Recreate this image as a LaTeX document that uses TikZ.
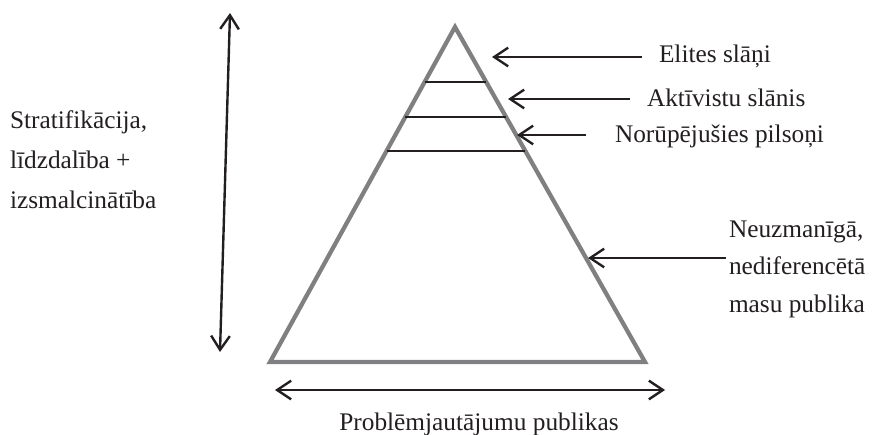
\documentclass[tikz,border=0pt]{standalone}
\usepackage{fontspec}
\setmainfont{Liberation Serif}
\usetikzlibrary{arrows.meta,calc}
\definecolor{trigray}{RGB}{128,128,130}
\definecolor{ink}{RGB}{35,31,32}
\begin{document}
\begin{tikzpicture}[x=0.75pt,y=-0.75pt,
  lbl/.style={font=\fontsize{19}{28}\selectfont, inner sep=0pt, outer sep=0pt, text=ink},
  tip/.tip={Straight Barb[length=10.5pt,width=14pt]},
  arr/.style={-tip, line width=1.8pt, draw=ink},
  dbl/.style={tip-tip, line width=1.8pt, draw=ink},
  strat/.style={line width=1.8pt, draw=ink},
  tri/.style={line width=3.2pt, draw=trigray, line join=miter}]
\useasboundingbox (0,0) rectangle (874,435);
% triangle
\coordinate (apex) at (455,27);
\coordinate (bl) at (270,362);
\coordinate (br) at (645,362);
\draw[tri] (apex) -- (bl) -- (br) -- cycle;
% strata lines
\coordinate (l1a) at ($(apex)!0.164!(bl)$);
\coordinate (l1b) at ($(apex)!0.164!(br)$);
\coordinate (l2a) at ($(apex)!0.269!(bl)$);
\coordinate (l2b) at ($(apex)!0.269!(br)$);
\coordinate (l3a) at ($(apex)!0.370!(bl)$);
\coordinate (l3b) at ($(apex)!0.370!(br)$);
\draw[strat] (l1a) -- (l1b);
\draw[strat] (l2a) -- (l2b);
\draw[strat] (l3a) -- (l3b);
% labels
\node[lbl, anchor=base west] (elites) at (659,63) {Elites slāņi};
\node[lbl, anchor=base west] (akt) at (647,106) {Aktīvistu slānis};
\node[lbl, anchor=base west] (nor) at (615,142) {Norūpējušies pilsoņi};
\node[lbl, anchor=base west, align=left, font=\fontsize{19}{28}\selectfont] (neu) at (729,312) {Neuzmanīgā,\\nediferencētā\\masu publika};
\node[lbl, anchor=base west, align=left, font=\fontsize{19}{30}\selectfont] (strat) at (10,208) {Stratifikācija,\\līdzdalība +\\izsmalcinātība};
\node[lbl, anchor=base] (prob) at (479,430) {Problēmjautājumu publikas};
% arrow tips
\coordinate (t1) at (492,57);
\coordinate (t2) at (508,99);
\coordinate (t3) at (517,135);
\coordinate (t4) at (588,258);
\draw[arr, shorten <=12.75pt] (elites.west |- t1) -- (t1);
\draw[arr, shorten <=12.75pt] (akt.west |- t2) -- (t2);
\draw[arr, shorten <=21.75pt] (nor.west |- t3) -- (t3);
\draw[arr, shorten <=2.25pt] (neu.west |- t4) -- (t4);
% double arrows
\coordinate (vtop) at (230,13);
\coordinate (vbot) at (220,352);
\draw[dbl] (vbot) -- (vtop);
\coordinate (hl) at (275,390);
\coordinate (hr) at (665,390);
\draw[dbl] (hl) -- (hr);
\end{tikzpicture}
\end{document}
